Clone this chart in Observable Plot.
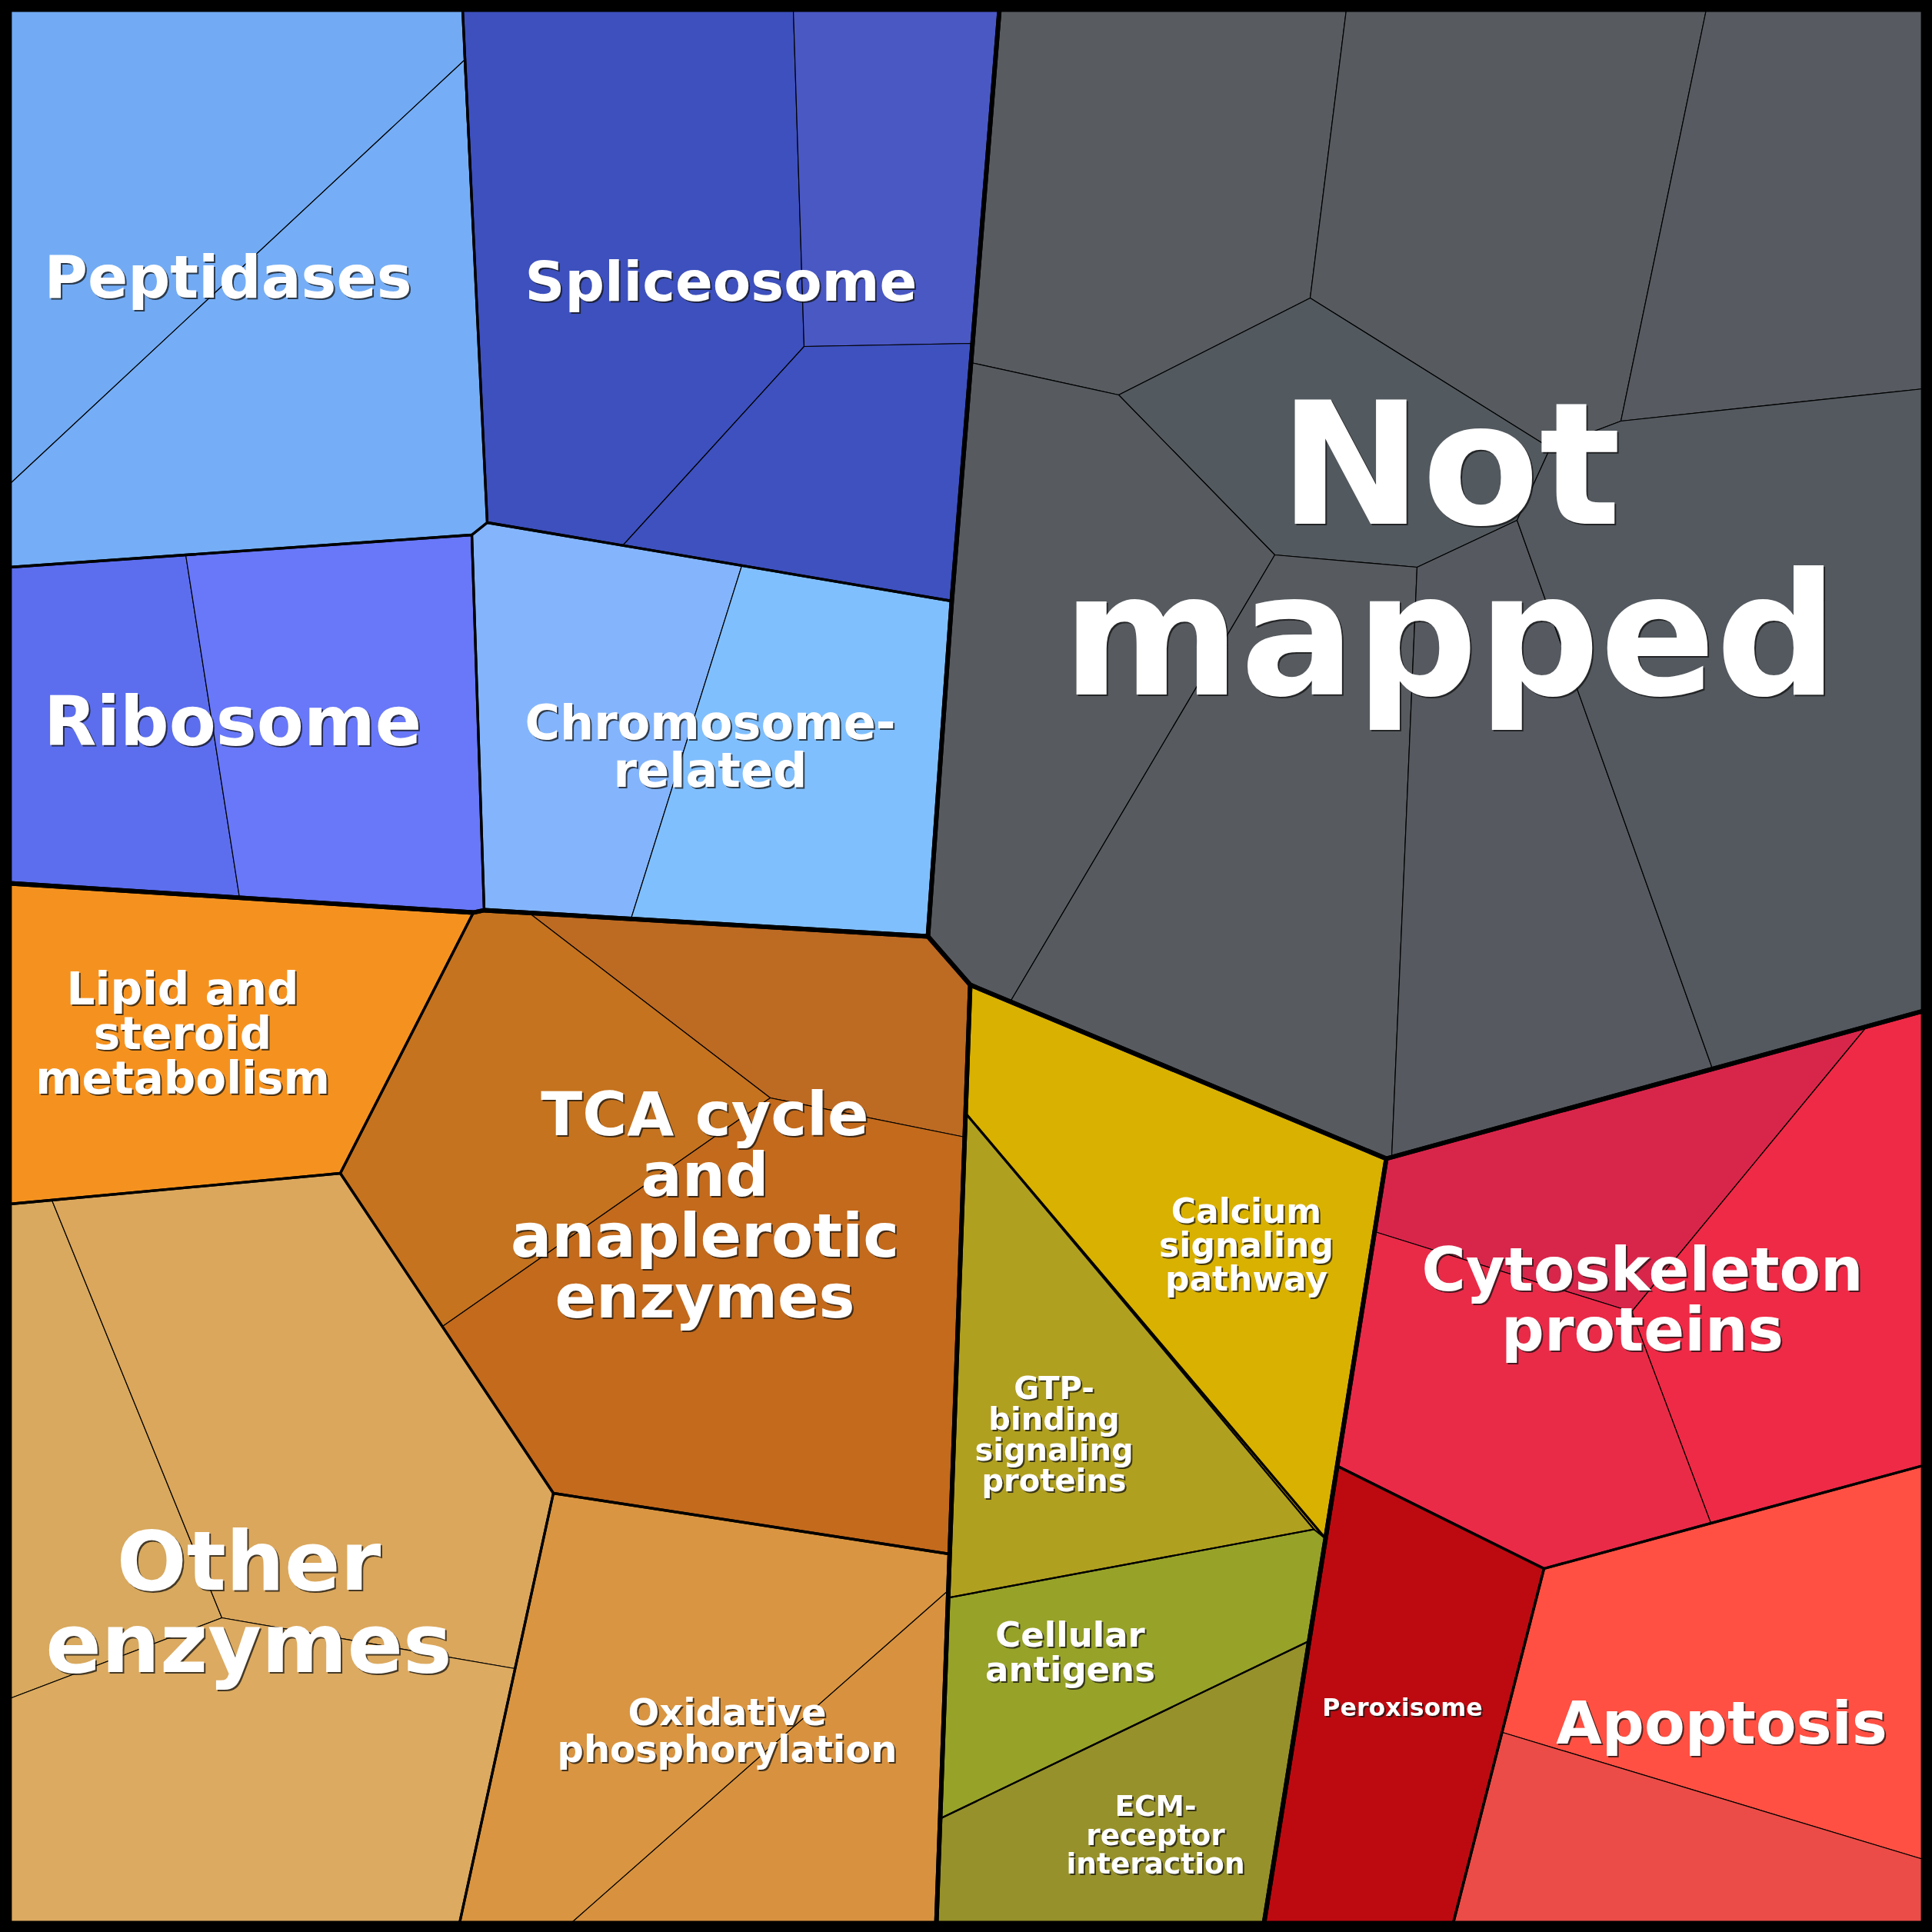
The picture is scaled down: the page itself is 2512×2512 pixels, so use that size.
<!DOCTYPE html>
<html>
<head>
<meta charset="utf-8">
<script src="https://cdn.jsdelivr.net/npm/d3@7"></script>
<script src="https://cdn.jsdelivr.net/npm/@observablehq/plot@0.6"></script>
<style>
html, body { margin: 0; padding: 0; background: #000; overflow: hidden; }
</style>
</head>
<body>
<div id="chart"></div>
<script>
// ---- Voronoi treemap layout (layout units) ----
const vertices = [
  ["TL",12,12],["TR",2500,12],["BR",2500,2500],["BL",12,2500],
  ["p1",601,12],["p2",1031,12],["p3",1299,12],["p4",1750,12],["p5",2218,12],
  ["l1",12,629],["l2",12,737],["l3",12,1148],["l4",12,1565],["l5",12,2208],
  ["r1",2500,505],["r2",2500,1314],["r3",2500,1905],["r4",2500,2417],
  ["b1",597,2500],["b2",742,2500],["b3",1217,2500],["b4",1643,2500],["b5",1889,2500],
  ["pa",603,78],["pb",633,679],["pc",613,695],
  ["ra",241,721],["rb",311,1167],["j1",629,1183],["j2",615,1186],
  ["sa",1045,450],["sb",1264,446],["sc",809,709],
  ["ca",964,735],["cb",820,1194],
  ["m1",1237,781],["m2",1206,1217],["m3",1261,1280],
  ["na",1262,471],["nb",1454,513],["nc",1703,387],["nd",2015,582],["ne",2107,547],
  ["nf",1972,676],["ng",1842,737],["nh",1657,721],["ni",1313,1302],["nj",1809,1504],
  ["nk",2226,1389],["B",1802,1506],
  ["ta",688,1187],["tb",1001,1427],["tc",1254,1478],["td",575,1724],["te",442,1525],
  ["tf",719,1941],["g0",1255,1447],["tg",1234,2020],
  ["oa",67,1560],["ob",288,2103],["oc",669,2169],
  ["xa",1233,2067],["ga",1232,2077],["gk",1708,1988],["K",1723,2000],
  ["e1",1222,2364],["e2",1702,2133],
  ["Q",1739,1906],["c1",2427,1334],["c2",2121,1705],["c3",1787,1601],
  ["c4",2224,1980],["c5",2007,2039],["ap",1953,2252]
];

// level-3 cells (proteins): ring of vertex ids and fill colour
const cellRings = [
  "TL p1 pa l1", "pa pb pc l2 l1",
  "p1 p2 sa sc pb", "p2 p3 sb sa", "sa sb m1 sc",
  "l2 ra rb l3", "ra pc j1 j2 rb",
  "pc pb sc ca cb j1", "ca m1 m2 cb",
  "p3 p4 nc nb na", "p4 p5 ne nd nc", "p5 TR r1 ne", "nb nc nd nf ng nh",
  "na nb nh ni m3 m2 m1", "nh ng nj B ni", "ng nf nk nj", "nf nd ne r1 r2 nk",
  "l3 j2 te l4",
  "ta m2 m3 g0 tc tb", "j2 j1 ta tb td te", "tb tc tg tf td",
  "l4 oa ob l5", "oa te tf oc ob", "l5 ob oc b1 BL",
  "tf tg xa b2 b1", "xa b3 b2",
  "m3 B Q K gk g0",
  "g0 gk ga",
  "ga gk K e2 e1",
  "e1 e2 b4 b3",
  "B c1 c2 c3", "c1 r2 r3 c4 c2", "c3 c2 c4 c5 Q",
  "Q c5 ap b5 b4 K",
  "c5 r3 r4 ap", "ap r4 BR b5"
];
const cellColors = [
  "#72abf4", "#75aef6",
  "#3d50bd", "#4a58c4", "#3e51bf",
  "#5c6eee", "#6878f8",
  "#84b5fc", "#80bffd",
  "#585c61", "#575b60", "#575b61", "#52595f",
  "#575b60", "#575b60", "#565a60", "#53595f",
  "#f5921f",
  "#bd6a23", "#c5731f", "#c36a1c",
  "#d8a95e", "#dba75c", "#dcaa60",
  "#d99541", "#d8923f",
  "#d9b100",
  "#b0a020",
  "#97a229",
  "#96912a",
  "#d8264a", "#ef2a46", "#e92b48",
  "#bd0a10",
  "#ff5043", "#eb4c47"
];

// level-2 pathways
const pathways = [
  "Peptidases", "Spliceosome", "Ribosome", "Chromosome-related", "Not mapped",
  "Lipid and steroid metabolism", "TCA cycle and anaplerotic enzymes", "Other enzymes",
  "Oxidative phosphorylation", "Calcium signaling pathway", "GTP-binding signaling proteins",
  "Cellular antigens", "ECM-receptor interaction", "Cytoskeleton proteins", "Peroxisome", "Apoptosis"
];
const pathwayLabels = [
  "Peptidases", "Spliceosome", "Ribosome", "Chromosome-\nrelated", "Not\nmapped",
  "Lipid and\nsteroid\nmetabolism", "TCA cycle\nand\nanaplerotic\nenzymes", "Other\nenzymes",
  "Oxidative\nphosphorylation", "Calcium\nsignaling\npathway", "GTP-\nbinding\nsignaling\nproteins",
  "Cellular\nantigens", "ECM-\nreceptor\ninteraction", "Cytoskeleton\nproteins", "Peroxisome", "Apoptosis"
];
const pathwayRings = [
  "TL p1 pb pc l2", "p1 p3 m1 pb", "l2 pc j1 j2 l3", "pc pb m1 m2 j1", "p3 TR r2 B m3 m2 m1",
  "l3 j2 te l4", "j2 j1 m2 m3 tg tf te", "l4 te tf b1 BL",
  "tf tg b3 b1", "m3 B K g0", "g0 gk ga",
  "ga gk K e2 e1", "e1 e2 b4 b3", "B r2 r3 c5 Q", "Q c5 b5 b4 K", "c5 r3 BR b5"
];
const finePathways = ["GTP-binding signaling proteins", "Cellular antigens", "ECM-receptor interaction"];

// level-1 categories
const groupRings = [
  "TL p3 m1 m2 j1 j2 l3",
  "p3 TR r2 B m3 m2 m1",
  "l3 j2 j1 m2 m3 b3 BL",
  "m3 B K b4 b3",
  "B r2 BR b4 K"
];

// label anchors and sizes (layout units)
const labelX = [296, 937, 302, 923, 1885, 237, 916, 323, 945, 1620, 1370, 1391, 1502, 2135, 1823, 2238];
const labelY = [362, 367, 940, 972, 720, 1345, 1569, 2086, 2251, 1619, 1866, 2149, 2386, 1692, 2220, 2242];
const labelSize = [77, 72, 89, 62, 222, 58, 79, 107, 48, 44, 40, 45, 37.5, 78, 31.7, 77];

// ---- build tables ----
const V = new Map(vertices.map(([id, x, y]) => [id, {x, y}]));
function ringRows(id, spec) {
  const ids = spec.split(" ");
  ids.push(ids[0]);
  return ids.map(v => ({id, x: V.get(v).x, y: V.get(v).y}));
}
const cellIds = cellRings.map((_, i) => "cell" + i);
const cellData = cellRings.flatMap((r, i) => ringRows(cellIds[i], r));
const pathData = pathways.flatMap((p, i) => ringRows(p, pathwayRings[i]));
const pathThick = pathData.filter(d => !finePathways.includes(d.id));
const pathFine = pathData.filter(d => finePathways.includes(d.id));
const groupData = groupRings.flatMap((r, i) => ringRows("group" + i, r));
const labels = pathways.map((p, i) => ({
  pathway: p, label: pathwayLabels[i], x: labelX[i], y: labelY[i], size: labelSize[i]
}));

const chart = Plot.plot({
  width: 2512,
  height: 2512,
  margin: 0,
  x: {domain: [0, 2512], axis: null},
  y: {domain: [0, 2512], reverse: true, axis: null},
  color: {domain: cellIds, range: cellColors},
  style: {background: "#000", fontFamily: "DejaVu Sans"},
  marks: [
    Plot.line(cellData, {x: "x", y: "y", z: "id", fill: "id", stroke: "#000", strokeWidth: 1.2}),
    Plot.line(pathFine, {x: "x", y: "y", z: "id", fill: "none", stroke: "#000", strokeWidth: 2.2}),
    Plot.line(pathThick, {x: "x", y: "y", z: "id", fill: "none", stroke: "#000", strokeWidth: 3.3}),
    Plot.line(groupData, {x: "x", y: "y", z: "id", fill: "none", stroke: "#000", strokeWidth: 5.8}),
    Plot.text(labels, {
      x: "x", y: "y", text: "label", fontSize: "size", fontWeight: "bold",
      fill: "#fff", textAnchor: "middle", lineAnchor: "middle", lineHeight: 1.0,
      fontFamily: "DejaVu Sans", className: "treemap-labels"
    })
  ]
});
// thin dark shadow under the white labels
d3.select(chart).selectAll("g[aria-label='text']")
  .style("filter", "drop-shadow(2px 2px 0px rgba(20,20,20,0.75))");
document.getElementById("chart").appendChild(chart);
</script>
</body>
</html>
